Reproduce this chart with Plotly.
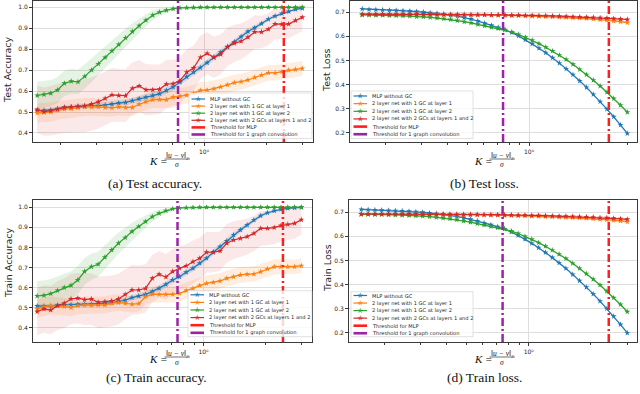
import plotly.graph_objects as go

W, H = 640, 394

# ---------------- data ----------------
K = [0.155, 0.1673, 0.1805, 0.1947, 0.2101, 0.2266, 0.2445, 0.2638, 0.2847, 0.3071,
     0.3313, 0.3575, 0.3857, 0.4162, 0.4490, 0.4844, 0.5227, 0.5639, 0.6085, 0.6565,
     0.7083, 0.7642, 0.8245, 0.8896, 0.9598, 1.0355, 1.1173, 1.2055, 1.3007, 1.4033,
     1.5141, 1.6337, 1.7626, 1.9017, 2.0518, 2.2136, 2.3883, 2.5769, 2.7802, 2.9996]

K_THRESHOLD_MLP = 2.44
K_THRESHOLD_GC = 0.748

SERIES_NAMES = ["MLP without GC", "2 layer net with 1 GC at layer 1",
                "2 layer net with 1 GC at layer 2", "2 layer net with 2 GCs at layers 1 and 2"]
THRESH_NAMES = ["Threshold for MLP", "Threshold for 1 graph convolution"]

# (a) test accuracy
ta_mlp = [0.506, 0.508, 0.510, 0.516, 0.522, 0.524, 0.527, 0.527, 0.530, 0.530,
          0.533, 0.538, 0.543, 0.546, 0.554, 0.563, 0.571, 0.579, 0.587, 0.603,
          0.619, 0.643, 0.668, 0.690, 0.712, 0.735, 0.760, 0.785, 0.810, 0.835,
          0.860, 0.884, 0.902, 0.922, 0.943, 0.958, 0.970, 0.980, 0.990, 0.995]
ta_gc1 = [0.495, 0.498, 0.500, 0.508, 0.514, 0.516, 0.520, 0.524, 0.524, 0.524,
          0.522, 0.520, 0.524, 0.522, 0.522, 0.537, 0.549, 0.559, 0.560, 0.559,
          0.571, 0.576, 0.580, 0.590, 0.603, 0.605, 0.611, 0.620, 0.630, 0.640,
          0.645, 0.653, 0.665, 0.676, 0.687, 0.687, 0.692, 0.700, 0.703, 0.708]
ta_gc2 = [0.579, 0.584, 0.590, 0.605, 0.637, 0.647, 0.644, 0.670, 0.700, 0.730,
          0.760, 0.792, 0.822, 0.854, 0.884, 0.912, 0.938, 0.962, 0.977, 0.986,
          0.993, 0.997, 0.998, 0.999, 1.000, 1.000, 1.000, 1.000, 1.000, 1.000,
          1.000, 1.000, 1.000, 1.000, 1.000, 1.000, 1.000, 1.000, 1.000, 1.000]
ta_gc12 = [0.512, 0.502, 0.506, 0.514, 0.522, 0.524, 0.527, 0.530, 0.538, 0.549,
           0.565, 0.582, 0.579, 0.578, 0.613, 0.624, 0.606, 0.606, 0.609, 0.633,
           0.635, 0.650, 0.690, 0.710, 0.761, 0.780, 0.761, 0.775, 0.812, 0.828,
           0.838, 0.857, 0.882, 0.882, 0.895, 0.920, 0.919, 0.920, 0.937, 0.952]
sd_ta_mlp = [0.010, 0.010, 0.010, 0.011, 0.011, 0.011, 0.012, 0.012, 0.012, 0.012,
             0.013, 0.013, 0.013, 0.014, 0.014, 0.014, 0.015, 0.015, 0.015, 0.016,
             0.016, 0.016, 0.016, 0.016, 0.016, 0.016, 0.015, 0.015, 0.014, 0.014,
             0.013, 0.012, 0.011, 0.010, 0.009, 0.008, 0.007, 0.006, 0.005, 0.004]
sd_ta_gc1 = [0.046, 0.046, 0.045, 0.045, 0.044, 0.044, 0.043, 0.043, 0.043, 0.042,
             0.042, 0.042, 0.041, 0.041, 0.041, 0.040, 0.040, 0.040, 0.040, 0.040,
             0.040, 0.040, 0.040, 0.040, 0.040, 0.040, 0.040, 0.039, 0.039, 0.039,
             0.039, 0.038, 0.038, 0.038, 0.038, 0.037, 0.037, 0.037, 0.036, 0.036]
sd_ta_gc2 = [0.065, 0.064, 0.063, 0.062, 0.061, 0.060, 0.059, 0.058, 0.057, 0.055,
             0.053, 0.050, 0.047, 0.044, 0.040, 0.035, 0.029, 0.023, 0.017, 0.012,
             0.008, 0.005, 0.003, 0.002, 0.001, 0.001, 0.001, 0.001, 0.001, 0.001,
             0.001, 0.001, 0.001, 0.001, 0.001, 0.001, 0.001, 0.001, 0.001, 0.001]
sd_ta_gc12 = [0.115, 0.115, 0.118, 0.120, 0.122, 0.124, 0.125, 0.126, 0.127, 0.128,
              0.128, 0.128, 0.127, 0.126, 0.125, 0.124, 0.122, 0.120, 0.118, 0.116,
              0.114, 0.112, 0.110, 0.107, 0.104, 0.101, 0.098, 0.095, 0.092, 0.089,
              0.086, 0.083, 0.080, 0.078, 0.076, 0.073, 0.071, 0.069, 0.067, 0.065]

# (b) test loss
tl_mlp = [0.714, 0.712, 0.711, 0.710, 0.709, 0.708, 0.707, 0.705, 0.703, 0.701,
          0.698, 0.695, 0.692, 0.688, 0.684, 0.678, 0.672, 0.664, 0.655, 0.646,
          0.637, 0.628, 0.616, 0.602, 0.586, 0.569, 0.551, 0.532, 0.511, 0.489,
          0.465, 0.441, 0.415, 0.388, 0.359, 0.329, 0.298, 0.266, 0.232, 0.197]
tl_gc1 = [0.691, 0.691, 0.691, 0.691, 0.691, 0.691, 0.691, 0.691, 0.691, 0.691,
          0.691, 0.691, 0.690, 0.690, 0.690, 0.690, 0.689, 0.689, 0.689, 0.688,
          0.688, 0.687, 0.687, 0.686, 0.685, 0.684, 0.683, 0.682, 0.681, 0.680,
          0.679, 0.677, 0.676, 0.674, 0.672, 0.669, 0.667, 0.664, 0.661, 0.657]
tl_gc2 = [0.689, 0.689, 0.688, 0.688, 0.687, 0.686, 0.685, 0.684, 0.682, 0.681,
          0.679, 0.676, 0.673, 0.670, 0.666, 0.661, 0.656, 0.650, 0.644, 0.638,
          0.633, 0.627, 0.618, 0.608, 0.596, 0.584, 0.570, 0.555, 0.539, 0.522,
          0.504, 0.484, 0.463, 0.441, 0.418, 0.394, 0.368, 0.342, 0.314, 0.285]
tl_gc12 = [0.692, 0.692, 0.692, 0.692, 0.692, 0.692, 0.692, 0.692, 0.692, 0.692,
           0.692, 0.691, 0.691, 0.691, 0.691, 0.690, 0.690, 0.690, 0.690, 0.689,
           0.689, 0.689, 0.688, 0.688, 0.687, 0.687, 0.686, 0.686, 0.685, 0.684,
           0.683, 0.682, 0.681, 0.680, 0.679, 0.677, 0.676, 0.674, 0.672, 0.670]
sd_tl_mlp = [0.004, 0.004, 0.004, 0.004, 0.004, 0.004, 0.004, 0.004, 0.004, 0.004,
             0.004, 0.004, 0.004, 0.004, 0.004, 0.004, 0.004, 0.004, 0.004, 0.004,
             0.004, 0.004, 0.004, 0.004, 0.004, 0.004, 0.004, 0.004, 0.004, 0.004,
             0.004, 0.004, 0.004, 0.004, 0.004, 0.004, 0.004, 0.004, 0.004, 0.004]
sd_tl_gc1 = [0.002, 0.002, 0.002, 0.002, 0.002, 0.002, 0.002, 0.002, 0.002, 0.002,
             0.002, 0.002, 0.002, 0.002, 0.002, 0.002, 0.002, 0.002, 0.002, 0.003,
             0.003, 0.003, 0.003, 0.003, 0.003, 0.003, 0.004, 0.004, 0.004, 0.004,
             0.004, 0.005, 0.005, 0.005, 0.005, 0.006, 0.006, 0.006, 0.007, 0.007]
sd_tl_gc2 = [0.003, 0.003, 0.003, 0.003, 0.003, 0.003, 0.003, 0.003, 0.003, 0.003,
             0.003, 0.003, 0.003, 0.003, 0.003, 0.003, 0.003, 0.003, 0.003, 0.003,
             0.003, 0.003, 0.003, 0.003, 0.003, 0.003, 0.003, 0.003, 0.003, 0.003,
             0.003, 0.003, 0.003, 0.003, 0.003, 0.003, 0.003, 0.003, 0.003, 0.003]
sd_tl_gc12 = [0.002, 0.002, 0.002, 0.002, 0.002, 0.002, 0.002, 0.002, 0.002, 0.002,
              0.002, 0.002, 0.002, 0.002, 0.002, 0.002, 0.002, 0.002, 0.002, 0.002,
              0.002, 0.002, 0.002, 0.002, 0.002, 0.002, 0.002, 0.002, 0.002, 0.002,
              0.002, 0.002, 0.002, 0.002, 0.002, 0.002, 0.002, 0.002, 0.002, 0.002]

# (c) train accuracy
tra_mlp = [0.508, 0.508, 0.508, 0.512, 0.513, 0.515, 0.517, 0.517, 0.518, 0.520,
           0.522, 0.525, 0.530, 0.537, 0.550, 0.558, 0.566, 0.580, 0.596, 0.616,
           0.638, 0.654, 0.676, 0.696, 0.721, 0.746, 0.776, 0.804, 0.832, 0.862,
           0.887, 0.912, 0.937, 0.958, 0.973, 0.983, 0.990, 0.995, 0.998, 1.000]
tra_gc1 = [0.492, 0.505, 0.510, 0.508, 0.505, 0.500, 0.510, 0.513, 0.512, 0.513,
           0.513, 0.522, 0.525, 0.522, 0.517, 0.520, 0.555, 0.566, 0.566, 0.566,
           0.566, 0.571, 0.585, 0.596, 0.610, 0.621, 0.626, 0.633, 0.646, 0.654,
           0.663, 0.666, 0.668, 0.679, 0.693, 0.704, 0.704, 0.704, 0.704, 0.709]
tra_gc2 = [0.558, 0.561, 0.570, 0.585, 0.600, 0.611, 0.638, 0.680, 0.704, 0.716,
           0.751, 0.787, 0.821, 0.849, 0.879, 0.904, 0.929, 0.953, 0.970, 0.983,
           0.992, 0.997, 0.998, 0.999, 1.000, 1.000, 1.000, 1.000, 1.000, 1.000,
           1.000, 1.000, 1.000, 1.000, 1.000, 1.000, 1.000, 1.000, 1.000, 1.000]
tra_gc12 = [0.480, 0.493, 0.488, 0.510, 0.522, 0.543, 0.547, 0.540, 0.543, 0.527,
            0.530, 0.533, 0.543, 0.566, 0.588, 0.588, 0.596, 0.646, 0.666, 0.653,
            0.680, 0.696, 0.708, 0.729, 0.746, 0.776, 0.776, 0.782, 0.821, 0.837,
            0.845, 0.854, 0.870, 0.895, 0.895, 0.899, 0.909, 0.915, 0.920, 0.938]
sd_tra_mlp = [0.010, 0.010, 0.010, 0.011, 0.011, 0.011, 0.012, 0.012, 0.012, 0.012,
              0.013, 0.013, 0.013, 0.014, 0.014, 0.014, 0.015, 0.015, 0.015, 0.016,
              0.016, 0.016, 0.016, 0.016, 0.016, 0.016, 0.015, 0.015, 0.014, 0.014,
              0.013, 0.012, 0.011, 0.010, 0.009, 0.008, 0.007, 0.006, 0.005, 0.004]
sd_tra_gc1 = [0.045, 0.045, 0.045, 0.044, 0.044, 0.044, 0.043, 0.043, 0.043, 0.042,
              0.042, 0.042, 0.041, 0.041, 0.041, 0.040, 0.040, 0.040, 0.040, 0.040,
              0.040, 0.040, 0.040, 0.040, 0.040, 0.040, 0.040, 0.039, 0.039, 0.039,
              0.039, 0.038, 0.038, 0.038, 0.038, 0.037, 0.037, 0.037, 0.036, 0.036]
sd_tra_gc2 = [0.075, 0.074, 0.073, 0.072, 0.071, 0.070, 0.069, 0.067, 0.065, 0.063,
              0.060, 0.057, 0.053, 0.049, 0.044, 0.038, 0.031, 0.024, 0.018, 0.012,
              0.008, 0.005, 0.003, 0.002, 0.001, 0.001, 0.001, 0.001, 0.001, 0.001,
              0.001, 0.001, 0.001, 0.001, 0.001, 0.001, 0.001, 0.001, 0.001, 0.001]
sd_tra_gc12 = [0.118, 0.118, 0.120, 0.122, 0.124, 0.125, 0.126, 0.127, 0.128, 0.128,
               0.128, 0.127, 0.126, 0.125, 0.124, 0.122, 0.120, 0.118, 0.116, 0.114,
               0.112, 0.110, 0.108, 0.106, 0.104, 0.102, 0.100, 0.098, 0.096, 0.094,
               0.092, 0.090, 0.088, 0.086, 0.084, 0.082, 0.080, 0.078, 0.076, 0.074]

# (d) train loss
trl_mlp = [0.712, 0.711, 0.710, 0.709, 0.708, 0.707, 0.706, 0.704, 0.702, 0.700,
           0.697, 0.694, 0.691, 0.687, 0.683, 0.677, 0.671, 0.664, 0.656, 0.648,
           0.640, 0.631, 0.618, 0.604, 0.588, 0.571, 0.553, 0.533, 0.512, 0.490,
           0.467, 0.442, 0.416, 0.389, 0.361, 0.331, 0.300, 0.268, 0.234, 0.199]
trl_gc1 = [0.692, 0.692, 0.692, 0.692, 0.692, 0.692, 0.692, 0.691, 0.691, 0.691,
           0.691, 0.691, 0.690, 0.690, 0.690, 0.690, 0.689, 0.689, 0.689, 0.688,
           0.688, 0.687, 0.687, 0.686, 0.685, 0.684, 0.683, 0.682, 0.681, 0.680,
           0.679, 0.678, 0.677, 0.675, 0.673, 0.671, 0.669, 0.667, 0.664, 0.661]
trl_gc2 = [0.692, 0.692, 0.691, 0.691, 0.690, 0.689, 0.688, 0.687, 0.685, 0.684,
           0.682, 0.679, 0.676, 0.673, 0.669, 0.664, 0.659, 0.653, 0.647, 0.641,
           0.636, 0.631, 0.622, 0.612, 0.600, 0.588, 0.574, 0.559, 0.543, 0.526,
           0.508, 0.488, 0.467, 0.445, 0.422, 0.398, 0.372, 0.345, 0.317, 0.287]
trl_gc12 = [0.693, 0.693, 0.693, 0.693, 0.693, 0.693, 0.693, 0.693, 0.693, 0.692,
            0.692, 0.692, 0.692, 0.692, 0.691, 0.691, 0.691, 0.691, 0.690, 0.690,
            0.690, 0.689, 0.689, 0.688, 0.688, 0.687, 0.687, 0.686, 0.685, 0.684,
            0.684, 0.683, 0.682, 0.681, 0.680, 0.678, 0.677, 0.675, 0.673, 0.671]
sd_trl_mlp = sd_tl_mlp
sd_trl_gc1 = sd_tl_gc1
sd_trl_gc2 = sd_tl_gc2
sd_trl_gc12 = sd_tl_gc12

# ---------------- style ----------------
COLORS = ["#1f77b4", "#ff7f0e", "#2ca02c", "#d62728"]
FILLS = ["rgba(31,119,180,0.16)", "rgba(255,127,14,0.13)",
         "rgba(44,160,44,0.13)", "rgba(214,39,40,0.10)"]
C_MLP = "#ff1f1f"
C_GC = "#9b23a5"
TXT = "#262626"
GRID = "#dedede"
SPINE = "#3a3a3a"
SANS = "DejaVu Sans"
SERIF = "Liberation Serif"
DASH = "8px,3px,2px,3px"


def px(v):
    return v / W


def py(v):
    return 1 - v / H


panels = [
    dict(series=[(ta_mlp, sd_ta_mlp), (ta_gc1, sd_ta_gc1), (ta_gc2, sd_ta_gc2), (ta_gc12, sd_ta_gc12)],
         xd=(33, 313), yd=(1, 142), xr=(-0.830, 0.529), yr=(0.357, 1.030),
         ticks=[0.4, 0.5, 0.6, 0.7, 0.8, 0.9, 1.0], title="Test Accuracy", tsize=9.5, ty=70,
         tx=8, leg=(189, 93, 312, 138.5), row0=99, dy=7.1, lab=(147, 160.5),
         cap="(a) Test accuracy.", capxy=(155, 183)),
    dict(series=[(tl_mlp, sd_tl_mlp), (tl_gc1, sd_tl_gc1), (tl_gc2, sd_tl_gc2), (tl_gc12, sd_tl_gc12)],
         xd=(350, 637), yd=(1, 142), xr=(-0.869, 0.524), yr=(0.1614, 0.7469),
         ticks=[0.2, 0.3, 0.4, 0.5, 0.6, 0.7], title="Test Loss", tsize=9.5, ty=70,
         tx=327, leg=(351, 91, 473, 138.5), row0=96, dy=7.65, lab=(472, 160.5),
         cap="(b) Test loss.", capxy=(484, 183)),
    dict(series=[(tra_mlp, sd_tra_mlp), (tra_gc1, sd_tra_gc1), (tra_gc2, sd_tra_gc2), (tra_gc12, sd_tra_gc12)],
         xd=(33, 312), yd=(200, 342), xr=(-0.830, 0.529), yr=(0.3288, 1.0364),
         ticks=[0.4, 0.5, 0.6, 0.7, 0.8, 0.9, 1.0], title="Train Accuracy", tsize=9.5, ty=263,
         tx=8, leg=(188, 290.7, 312, 336.7), row0=294.8, dy=7.6, lab=(147, 358.5),
         cap="(c) Train accuracy.", capxy=(156, 377)),
    dict(series=[(trl_mlp, sd_trl_mlp), (trl_gc1, sd_trl_gc1), (trl_gc2, sd_trl_gc2), (trl_gc12, sd_trl_gc12)],
         xd=(349, 637), yd=(200, 342), xr=(-0.869, 0.524), yr=(0.1614, 0.7511),
         ticks=[0.2, 0.3, 0.4, 0.5, 0.6, 0.7], title="Train Loss", tsize=9.5, ty=268,
         tx=327, leg=(351, 291.7, 473, 336.7), row0=295.5, dy=7.55, lab=(472, 358.5),
         cap="(d) Train loss.", capxy=(484, 377)),
]

fig = go.Figure()
layout = dict(width=W, height=H, margin=dict(l=0, r=0, t=0, b=0),
              paper_bgcolor="white", plot_bgcolor="rgba(0,0,0,0)", showlegend=False,
              font=dict(family=SANS, color=TXT))
shapes = []
annotations = []

MINOR = [0.2, 0.3, 0.4, 0.5, 0.6, 0.7, 0.8, 0.9, 2, 3]

for i, P in enumerate(panels):
    n = i + 1
    xa = "x" if n == 1 else f"x{n}"
    ya = "y" if n == 1 else f"y{n}"
    xkey = "xaxis" if n == 1 else f"xaxis{n}"
    ykey = "yaxis" if n == 1 else f"yaxis{n}"

    for s, (mean, sd) in enumerate(P["series"]):
        up = [m + d for m, d in zip(mean, sd)]
        lo = [m - d for m, d in zip(mean, sd)]
        fig.add_trace(go.Scatter(x=K + K[::-1], y=up + lo[::-1], fill="toself",
                                 fillcolor=FILLS[s], line=dict(width=0), mode="lines",
                                 hoverinfo="skip", xaxis=xa, yaxis=ya))
    for s, (mean, sd) in enumerate(P["series"]):
        fig.add_trace(go.Scatter(x=K, y=mean, mode="lines+markers", name=SERIES_NAMES[s],
                                 line=dict(color=COLORS[s], width=1.2),
                                 marker=dict(symbol="star", size=4.5, color=COLORS[s],
                                             line=dict(width=0)),
                                 xaxis=xa, yaxis=ya))
    # threshold lines (vertical, spanning the axis range)
    for kv, col in ((K_THRESHOLD_GC, C_GC), (K_THRESHOLD_MLP, C_MLP)):
        fig.add_trace(go.Scatter(x=[kv, kv], y=list(P["yr"]), mode="lines",
                                 line=dict(color=col, width=2.5, dash=DASH),
                                 hoverinfo="skip", xaxis=xa, yaxis=ya))

    layout[xkey] = dict(type="log", domain=[px(P["xd"][0]), px(P["xd"][1])], range=list(P["xr"]),
                        anchor=ya, tickvals=[1], ticktext=["10⁰"],
                        ticks="outside", ticklen=3.5, tickwidth=0.8, tickcolor=SPINE,
                        showgrid=True, gridcolor=GRID, gridwidth=0.8,
                        minor=dict(tickvals=MINOR, ticks="outside", ticklen=2, tickwidth=0.6,
                                   tickcolor=SPINE, showgrid=False),
                        showline=True, mirror=True, linecolor=SPINE, linewidth=0.8,
                        zeroline=False, tickfont=dict(size=6, color=TXT, family=SANS))
    layout[ykey] = dict(domain=[py(P["yd"][1]), py(P["yd"][0])], range=list(P["yr"]),
                        anchor=xa, tickvals=P["ticks"], ticktext=[f"{t:.1f}" for t in P["ticks"]],
                        ticks="outside", ticklen=3, tickwidth=0.8, tickcolor=SPINE,
                        showgrid=True, gridcolor=GRID, gridwidth=0.8,
                        showline=True, mirror=True, linecolor=SPINE, linewidth=0.8,
                        zeroline=False, tickfont=dict(size=6, color=TXT, family=SANS))

    # y title
    annotations.append(dict(text=P["title"], x=px(P["tx"]), y=py(P["ty"]), xref="paper", yref="paper",
                            textangle=-90, xanchor="center", yanchor="middle", showarrow=False,
                            font=dict(size=P["tsize"], color=TXT, family=SANS)))

    # x label  K = ||u - v||_2 / sigma
    lx, ly = P["lab"]
    annotations.append(dict(text="K =", x=px(lx), y=py(ly), xref="paper", yref="paper",
                            xanchor="left", yanchor="middle", showarrow=False,
                            font=dict(size=11, color="#111", family=SERIF, style="italic")))
    annotations.append(dict(text="‖u − v‖₂", x=px(lx + 30), y=py(ly - 5.5),
                            xref="paper", yref="paper", xanchor="center", yanchor="middle",
                            showarrow=False,
                            font=dict(size=7.5, color="#111", family=SERIF, style="italic")))
    shapes.append(dict(type="line", xref="paper", yref="paper", x0=px(lx + 17.5), x1=px(lx + 43),
                       y0=py(ly - 1.5), y1=py(ly - 1.5), line=dict(color="#111", width=0.6)))
    annotations.append(dict(text="σ", x=px(lx + 30), y=py(ly + 3.5), xref="paper", yref="paper",
                            xanchor="center", yanchor="middle", showarrow=False,
                            font=dict(size=7.5, color="#111", family=SERIF, style="italic")))

    # caption
    annotations.append(dict(text=P["cap"], x=px(P["capxy"][0]), y=py(P["capxy"][1]), xref="paper",
                            yref="paper", xanchor="center", yanchor="middle", showarrow=False,
                            font=dict(size=13.5, color="#111", family=SERIF)))

# ---- legends: drawn on a page-sized overlay axis (pixel coordinates) so they sit above the data ----
LX, LY = "x5", "y5"
layout["xaxis5"] = dict(domain=[0, 1], range=[0, W], visible=False, anchor=LY, fixedrange=True)
layout["yaxis5"] = dict(domain=[0, 1], range=[H, 0], visible=False, anchor=LX, fixedrange=True)
names = SERIES_NAMES + THRESH_NAMES
cols = COLORS + [C_MLP, C_GC]
for P in panels:
    x0, y0, x1, y1 = P["leg"]
    fig.add_trace(go.Scatter(x=[x0, x1, x1, x0, x0], y=[y0, y0, y1, y1, y0], mode="lines",
                             fill="toself", fillcolor="rgba(255,255,255,0.82)",
                             line=dict(color="#cfcfcf", width=0.6), hoverinfo="skip",
                             xaxis=LX, yaxis=LY))
    for k, nm in enumerate(names):
        yy = P["row0"] + k * P["dy"]
        if k < 4:
            fig.add_trace(go.Scatter(x=[x0 + 2.5, x0 + 9.25, x0 + 16], y=[yy, yy, yy],
                                     mode="lines+markers", line=dict(color=cols[k], width=1.2),
                                     marker=dict(symbol="star", size=[0, 4.5, 0], color=cols[k],
                                                 line=dict(width=0)),
                                     hoverinfo="skip", xaxis=LX, yaxis=LY))
        else:
            fig.add_trace(go.Scatter(x=[x0 + 2.5, x0 + 16], y=[yy, yy], mode="lines",
                                     line=dict(color=cols[k], width=2.6),
                                     hoverinfo="skip", xaxis=LX, yaxis=LY))
        annotations.append(dict(text=nm, x=px(x0 + 18.5), y=py(yy), xref="paper", yref="paper",
                                xanchor="left", yanchor="middle", showarrow=False,
                                font=dict(size=5.1, color=TXT, family=SANS)))

layout["shapes"] = shapes
layout["annotations"] = annotations
fig.update_layout(**layout)
fig.write_html("out.html", config={"displayModeBar": False},
               post_script="document.body.style.margin='0';document.body.style.padding='0';"
                           "document.body.style.overflow='hidden';")
